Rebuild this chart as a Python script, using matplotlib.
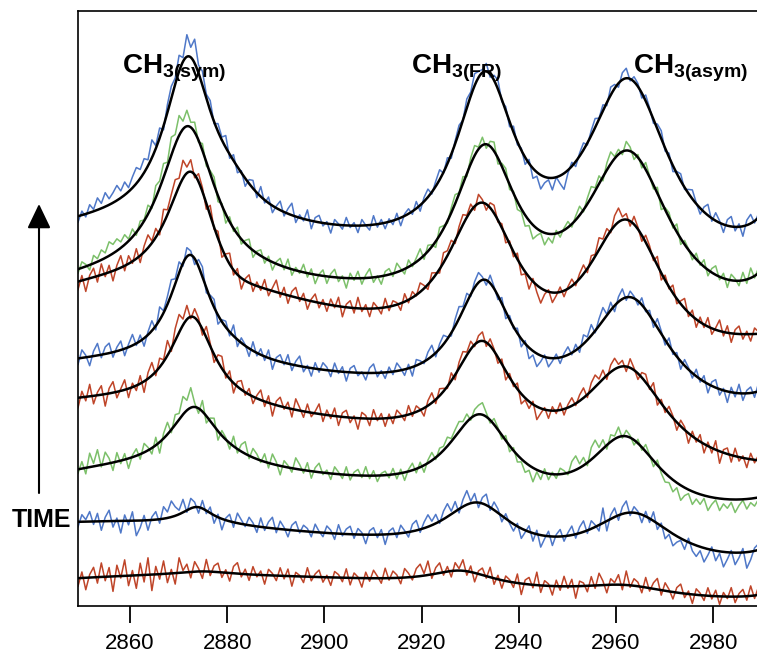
import numpy as np
import matplotlib
matplotlib.use('Agg')
import matplotlib.pyplot as plt

plt.rcParams['font.family'] = ['Liberation Sans', 'DejaVu Sans']
plt.rcParams['mathtext.fontset'] = 'custom'
plt.rcParams['mathtext.bf'] = 'Liberation Sans:bold'
plt.rcParams['mathtext.rm'] = 'Liberation Sans'

# ---------------- data (traces listed bottom -> top, earliest -> latest) ----------------
wavenumber_ticks = [2860, 2880, 2900, 2920, 2940, 2960, 2980]
peak_labels = [r'$\mathbf{CH_{3(sym)}}$', r'$\mathbf{CH_{3(FR)}}$', r'$\mathbf{CH_{3(asym)}}$']
trace_colors = ['#bf4529', '#4f78c8', '#7cc06a', '#bf4529', '#4f78c8', '#bf4529', '#7cc06a', '#4f78c8']

# fitted-curve parameters (intensity in arbitrary units, stacked with offsets)
base_c0 = [21.71, 56.65, 109.00, 162.15, 209.23, 254.49, 290.80, 343.42]
base_c1 = [-20.06, -39.11, -51.42, -62.04, -52.61, -97.94, -56.40, -56.11]
base_c2 = [-6.41, 3.88, 4.91, 4.11, 4.53, 31.06, 8.59, 8.29]
base_c3 = [8.21, 17.15, 33.47, 26.54, 25.69, 68.75, 35.33, 32.64]
sym_center = [2875.0, 2873.79, 2873.17, 2872.76, 2872.35, 2872.55, 2871.93, 2871.93]
sym_width = [7.0, 4.0, 6.0, 5.5, 5.0, 6.0, 7.0, 6.0]
sym_height = [4.0, 17.37, 60.13, 88.47, 107.18, 120.44, 153.07, 162.89]
fr_center = [2928.11, 2931.40, 2932.02, 2932.43, 2932.84, 2932.43, 2933.04, 2933.04]
fr_width = [8.0, 8.5, 8.0, 7.5, 7.0, 9.0, 8.0, 7.5]
fr_height = [14.60, 47.55, 83.87, 101.42, 113.45, 148.20, 156.83, 176.50]
asym_center = [2961.85, 2963.50, 2961.85, 2962.06, 2962.88, 2962.06, 2962.47, 2962.47]
asym_width = [11.0, 10.5, 9.0, 10.5, 10.0, 10.0, 11.0, 10.5]
asym_height = [10.43, 51.31, 76.27, 100.67, 116.99, 151.72, 174.04, 193.98]
shoulder_center, shoulder_width = 2881.0, 6.0
shoulder_height = [0.0, 0.83, 2.00, -0.28, 5.04, -16.09, -3.16, 19.26]
edge_center, edge_width = 2997.0, 5.0
edge_height = [18.68, 30.68, 12.53, -0.31, 37.93, -15.87, 88.39, 104.53]

# measured spectra: deviation of each raw trace from its fit (start 2849.3 cm-1, step 0.8 cm-1)
spec_start, spec_step = 2849.3, 0.8
noise_1 = [-8,6,-12,3,10,-6,14,-4,9,-15,11,-2,16,-10,5,-13, 12,-7,17,-16,8,-5,13,-9,4,-11,15,2,8,-6,10,3,
 -7,12,-4,6,9,-5,3,-8,7,11,-3,5,-6,8,-2,4, -9,6,2,-5,8,-3,7,-10,4,1,-6,9,-4,3,7,-5,
 2,-8,6,3,-4,9,-7,5,1,-9,6,-3,8,2,-5,10, -2,7,3,-6,9,4,-3,8,12,2,14,-4,6,10,-3,5,
 -6,8,2,11,-4,6,-9,3,7,-2,10,-6,4,-8,5,2, -5,9,-11,4,7,-3,13,-7,5,2,-9,6,-4,10,-2,7,
 -12,5,3,-6,9,-3,12,4,-8,6,2,10,-5,14,-2,7, 4,-6,10,-3,6,11,-5,8,2,-7,5,9,-4,3,-9,6,
 2,-5,8,-3,6,-8,4,-2,9,-6,3,7,-4,10,-3,8]
noise_2 = [-5,7,2,10,-3,8,-9,4,11,-6,3,-12,6,-4,9,-15, -7,5,-10,3,8,-4,12,6,16,9,4,13,-2,10,5,-6,
 8,-3,6,-8,3,-11,2,7,-5,10,4,-2,8,3,-6,9, -3,6,11,-4,8,2,-7,5,9,-2,6,3,-5,8,1,-4,
 7,3,-6,9,-2,5,8,-4,6,2,-9,4,7,-3,5,-10, 3,6,-4,8,2,-5,7,10,-3,6,12,4,9,-2,8,13,
 3,10,-4,7,14,2,9,-5,6,11,-3,8,4,-6,5,-2, -7,3,-10,-2,6,-8,4,-12,-3,5,-9,2,7,-5,3,9,
 -4,6,11,-3,8,2,-6,15,-10,4,9,-5,7,12,-3,6, 2,-8,5,-4,9,-6,3,-10,-3,-12,-6,-2,-9,4,-7,-11,
 -4,-14,-6,3,-10,-2,-15,-7,2,-12,-5,4,-16,-8,3,6]
noise_3 = [-4,7,-6,14,3,16,-2,12,5,-8,9,-3,6,-10,2,7, -5,9,3,-6,8,-11,5,12,-3,10,6,18,10,20,4,-5,
 11,-7,3,8,-9,5,2,-6,10,-4,7,12,-3,9,5,-2, 8,-5,10,3,-9,6,2,-4,11,5,-3,8,-7,4,9,-2,
 3,-6,7,2,-4,8,-5,3,6,-2,9,-3,5,-6,2,4, -3,6,-5,4,-8,2,7,-4,5,-7,3,8,-2,6,4,9,
 3,7,10,5,8,-2,6,9,12,4,-3,6,2,-4,5,-6, 3,-7,-3,-10,-5,-14,-2,-8,4,-6,2,-4,6,3,-2,10,
 14,4,8,-3,12,16,5,9,-4,7,3,10,-2,6,2,-5, 4,-3,7,1,-6,5,-4,-9,-6,-12,-5,-15,-8,-4,-13,-6,
 -10,-3,-14,-7,-2,-12,-5,-9,-3,-13,-6,-1,-10,-4,-8,-2]
noise_4 = [-10,6,-4,12,-8,3,9,-12,5,11,-6,2,10,-9,4,-5, 8,-11,6,13,-4,9,2,15,-3,12,18,6,14,-2,9,4,
 -6,11,3,-8,7,12,-4,8,-10,5,9,-3,6,-7,3,10, -5,7,-12,4,9,-2,6,-8,11,3,-6,8,-4,2,10,-7,
 5,-3,8,-9,4,7,-5,2,-11,6,3,-7,9,-2,5,-8, 4,-6,7,2,-5,9,-3,6,1,-8,5,10,-4,7,3,-2,
 8,-5,6,10,3,8,-2,6,9,-4,7,2,-6,5,-9,4, -3,6,-10,-2,-7,3,-13,-5,2,-8,4,-3,7,-6,3,8,
 -2,6,10,-3,8,12,4,9,-4,7,11,3,6,-5,9,2, -6,5,8,-2,10,-7,4,-4,7,2,-8,6,3,-10,5,-3,
 7,-9,4,-5,9,-12,3,6,-7,8,-4,2,-9,6,-3,5]
noise_5 = [-6,8,2,-9,5,12,-3,7,10,-5,4,9,-7,3,11,-2, 6,-8,3,10,-4,13,2,8,15,5,11,-3,9,4,-6,7,
 10,-5,3,8,-9,2,6,-4,11,-7,5,1,-8,9,-3,6, -4,8,-10,3,7,-2,9,-6,4,10,-5,2,-8,6,-3,7,
 3,-6,8,-2,5,-9,4,7,-3,1,-7,5,9,-4,2,-6, 5,-3,8,2,-6,4,-9,6,3,-2,7,11,-4,5,9,2,
 -3,7,12,4,9,-2,6,10,3,-5,8,2,-4,6,-7,4, -2,5,-8,3,-11,-4,-13,-6,2,-9,-3,4,-6,3,8,-2,
 6,-5,9,3,11,-2,7,13,1,8,-6,5,10,-3,6,2, -4,7,-2,5,-6,9,3,-5,8,-3,4,-8,6,2,-5,7,
 -3,6,-9,4,8,-6,2,-11,5,-4,9,-7,3,6,-5,8]
noise_6 = [-8,5,-12,3,9,-6,11,-3,7,-10,4,12,-5,8,-2,10, -7,6,13,2,9,-4,14,5,11,16,8,18,6,12,-3,8,
 4,-6,10,-2,7,-9,3,11,-5,6,-11,2,8,-7,4,-3, 9,-6,3,12,-4,7,-8,5,10,-3,6,-9,2,8,-5,4,
 -7,6,-2,9,-10,3,7,-5,11,-3,4,-8,6,1,-6,9, -4,5,2,-7,8,-3,6,-1,9,3,-5,7,2,-4,10,5,
 8,-3,6,10,2,7,-4,9,3,-6,5,8,-2,4,-7,3, -5,6,-9,-2,-12,3,-7,-15,-4,2,-10,-3,5,-6,2,7,
 -3,5,9,-4,7,2,12,4,8,-2,10,14,3,6,-5,8, 2,-6,7,4,-3,9,-7,5,-2,8,-5,3,10,-4,6,-8,
 5,-3,9,-6,2,11,-4,7,-9,4,8,-5,3,-7,6,2]
noise_7 = [-4,6,2,-5,8,3,10,5,14,9,12,6,10,2,8,-3, 6,1,9,-2,12,7,14,4,18,10,20,8,16,5,10,-2,
 7,-4,3,8,-6,2,-9,5,-3,7,-5,3,8,-7,2,6, -5,4,-8,2,7,-3,9,-6,3,-2,8,-4,5,-9,1,6,
 -7,3,8,-4,2,-10,5,-2,7,-6,3,9,-5,1,-8,4, 6,-3,9,2,-5,7,-2,4,10,-4,6,2,-6,8,3,-2,
 5,9,1,7,-3,6,10,2,8,-4,5,9,-6,3,7,-5, 2,-8,-3,-11,-5,-14,-7,-2,-12,-4,-9,3,-5,2,6,-3,
 4,9,-2,6,11,3,8,-4,7,12,2,5,-3,9,4,-6, 3,-5,7,1,-4,6,-8,2,5,-3,8,-6,4,1,-5,6,
 -2,7,-6,4,9,-3,5,-8,6,2,-5,8,-4,10,-2,5]
noise_8 = [-6,4,-3,8,2,12,5,14,6,10,15,7,13,4,11,16, 9,14,6,18,3,10,-4,8,12,6,16,4,22,10,24,8,
 14,4,10,-2,8,3,12,-4,6,-6,2,-8,4,8,-5,10, -3,6,-7,2,9,-4,5,12,-6,3,-2,10,-8,4,7,-3,
 2,-9,5,1,-4,8,-2,3,-7,6,0,-5,9,-3,4,-6, 3,-4,6,-8,2,5,-3,7,-6,4,8,-2,5,10,-1,6,
 -4,3,7,0,9,4,12,6,3,8,-3,5,9,-2,4,-5, 6,-3,2,-7,4,-10,-4,-14,-6,-2,-12,0,-8,-16,-3,4,
 -5,3,7,-2,5,9,1,6,-3,8,4,-4,7,10,-2,5, 3,-5,6,2,-4,5,8,-3,4,-6,2,7,-2,4,9,1,
 -6,5,11,-3,8,2,-8,6,10,-4,3,-10,5,9,-2,4]
noises = [noise_1, noise_2, noise_3, noise_4, noise_5, noise_6, noise_7, noise_8]


def lor(x, c, g):
    return 1.0 / (1.0 + ((x - c) / g) ** 2)


def fit_curve(x, i):
    t = (x - 2920.0) / 70.0
    return (base_c0[i] + base_c1[i] * t + base_c2[i] * t ** 2 + base_c3[i] * t ** 3
            + sym_height[i] * lor(x, sym_center[i], sym_width[i])
            + fr_height[i] * lor(x, fr_center[i], fr_width[i])
            + asym_height[i] * lor(x, asym_center[i], asym_width[i])
            + shoulder_height[i] * lor(x, shoulder_center, shoulder_width)
            + edge_height[i] * lor(x, edge_center, edge_width))


# ---------------- figure ----------------
W, H = 757, 655
fig = plt.figure(figsize=(W / 100, H / 100), dpi=100)
ax = fig.add_axes([78 / W, (H - 605.7) / H, 1 - 78 / W, (605.7 - 11) / H])

xf = np.linspace(2849.3, 2989.5, 700)
n_traces = len(base_c0)
for i in range(n_traces):
    nz = np.asarray(noises[i], float)
    xn = spec_start + spec_step * np.arange(len(nz))
    ax.plot(xn, fit_curve(xn, i) + nz, color=trace_colors[i], lw=1.1, zorder=2)
for i in range(n_traces):
    ax.plot(xf, fit_curve(xf, i), color='black', lw=1.8, zorder=3)

ax.set_xlim(2849.3, 2989.0)
ax.set_ylim(0, 594.7)
ax.set_yticks([])
ax.set_xticks(wavenumber_ticks)
ax.set_xticklabels([str(v) for v in wavenumber_ticks])
ax.tick_params(axis='x', direction='out', length=12, width=1.3, labelsize=16, pad=7.5)
ax.spines['right'].set_visible(False)
for s in ('left', 'top', 'bottom'):
    ax.spines[s].set_linewidth(1.2)

label_px = [122, 411, 633]
for lab, px in zip(peak_labels, label_px):
    fig.text(px / W, (H - 74) / H, lab, fontsize=20, va='baseline')

fig.text(12 / W, (H - 527) / H, 'TIME', fontsize=18, fontweight='bold', va='baseline')
ax.annotate('', xy=(39, H - 204), xytext=(39, H - 493), xycoords='figure pixels',
            textcoords='figure pixels',
            arrowprops=dict(arrowstyle='-|>,head_length=1.5,head_width=0.72', mutation_scale=10,
                            lw=1.5, color='black', shrinkA=0, shrinkB=0))

fig.savefig('out.png', dpi=100)
